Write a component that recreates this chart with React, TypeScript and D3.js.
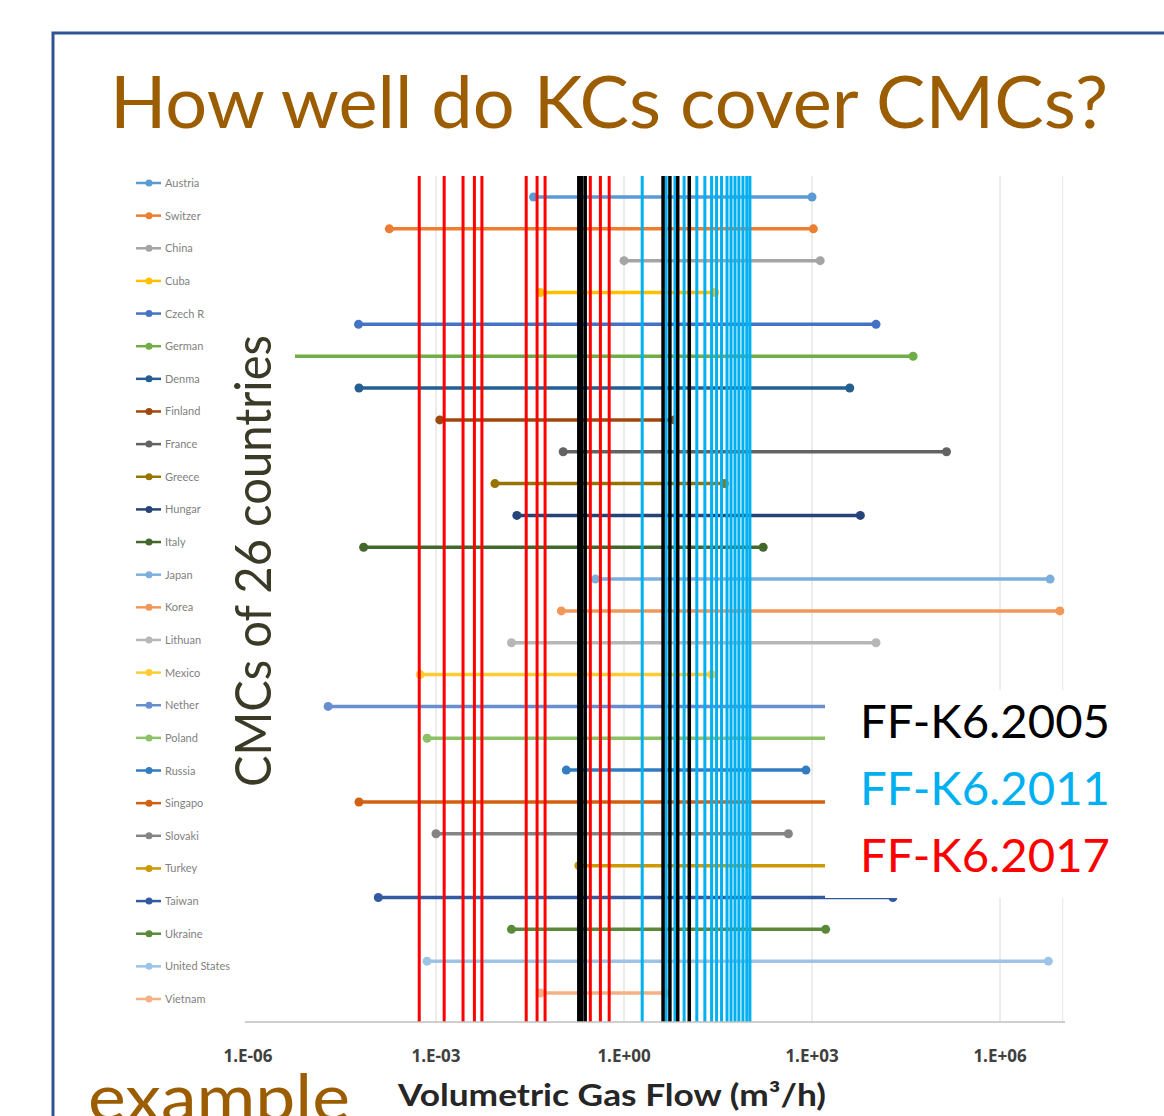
import React, { useEffect } from "react";
import * as d3 from "d3";

const countries = [
  "Austria", "Switzerland", "China", "Cuba", "Czech Republic", "Germany", "Denmark",
  "Finland", "France", "Greece", "Hungary", "Italy", "Japan", "Korea", "Lithuania",
  "Mexico", "Netherlands", "Poland", "Russia", "Singapore", "Slovakia", "Turkey",
  "Taiwan", "Ukraine", "United States", "Vietnam",
];
const legendLabels = [
  "Austria", "Switzer", "China", "Cuba", "Czech R", "German", "Denma",
  "Finland", "France", "Greece", "Hungar", "Italy", "Japan", "Korea", "Lithuan",
  "Mexico", "Nether", "Poland", "Russia", "Singapo", "Slovaki", "Turkey",
  "Taiwan", "Ukraine", "United States", "Vietnam",
];
const cmcMin = [
  3.6e-2, 1.8e-4, 1.0, 4.6e-2, 5.8e-5, 2e-6, 5.9e-5,
  1.15e-3, 0.107, 8.7e-3, 1.95e-2, 7e-5, 0.35, 0.1, 1.6e-2,
  5.6e-4, 1.9e-5, 7.2e-4, 0.12, 5.9e-5, 1e-3, 0.19,
  1.2e-4, 1.6e-2, 7.2e-4, 4.6e-2,
];
const cmcMax = [
  1e3, 1.05e3, 1.35e3, 28, 1.05e4, 4.1e4, 4e3,
  6.3, 1.4e5, 40, 5.9e3, 166, 6.3e6, 9e6, 1.05e4,
  25, 1e5, 3e4, 800, 2e4, 420, 1e4,
  1.95e4, 1.65e3, 5.9e6, 4.5,
];
const seriesColors = [
  "#5B9BD5", "#ED7D31", "#A5A5A5", "#FFC000", "#4472C4", "#70AD47", "#255E91",
  "#9E480E", "#636363", "#997300", "#264478", "#43682B", "#7CAFDD", "#F1975A", "#B7B7B7",
  "#FFCD33", "#698ED0", "#8CC168", "#327DC2", "#D26012", "#848484", "#CC9A00",
  "#335AA1", "#5A8A39", "#9DC3E6", "#F4B183",
];

const kc2005 = [0.19, 0.21, 0.24, 4.2, 5.4, 7.2, 11];
const kc2011 = [1.95, 4.7, 6.5, 9.1, 14.5, 19.5, 25, 30, 36, 44, 51, 59, 68, 79, 91, 102];
const kc2017 = [5.4e-4, 1.35e-3, 2.7e-3, 4.1e-3, 5.4e-3, 2.75e-2, 4.1e-2, 5.5e-2, 0.29, 0.42, 0.58];

const xTicks = [1e-6, 1e-3, 1, 1e3, 1e6];
const xTickLabels = ["1.E-06", "1.E-03", "1.E+00", "1.E+03", "1.E+06"];
const kcLabels = ["FF-K6.2005", "FF-K6.2011", "FF-K6.2017"];
const kcColors = ["#000000", "#00B0F0", "#FF0000"];

const W = 1164;
const H = 1116;
const plotTop = 176;
const plotBottom = 1022;

export default function App() {
  useEffect(() => {
    document.body.style.margin = "0";
    document.body.style.overflow = "hidden";
  }, []);

  const x = d3.scaleLog().domain([1e-6, 1e7]).range([248, 1062.7]);
  const y = d3.scalePoint<string>().domain(countries).range([197, 993]);
  const legendY = d3.scalePoint<string>().domain(countries).range([183, 999]);

  const font = "Lato, 'Open Sans', sans-serif";
  const brown = "#9C5D00";

  return (
    <svg width={W} height={H} style={{ position: "absolute", left: 0, top: 0, background: "#fff" }}
      fontFamily={font}>
      <defs>
        <clipPath id="legclip">
          <rect x={120} y={0} width={88} height={H} />
        </clipPath>
      </defs>
      <rect x={0} y={0} width={W} height={H} fill="#fff" />
      {/* slide frame */}
      <path d={`M53,${H + 5} L53,33 L${W + 5},33`} fill="none" stroke="#2F5597" strokeWidth={3} />

      {/* title */}
      <text x={110} y={128} fontSize={72} fill={brown} textLength={998} lengthAdjust="spacingAndGlyphs">
        How well do KCs cover CMCs?
      </text>

      {/* gridlines */}
      {xTicks.slice(1).map((t, i) => (
        <line key={"g" + i} x1={x(t)} x2={x(t)} y1={plotTop} y2={plotBottom} stroke="#D9D9D9" strokeWidth={1} />
      ))}
      <line x1={x(1e7)} x2={x(1e7)} y1={plotTop} y2={plotBottom} stroke="#E6E6E6" strokeWidth={1} />

      {/* CMC ranges */}
      {countries.map((c, i) => (
        <g key={c}>
          <line x1={x(cmcMin[i])} x2={x(cmcMax[i])} y1={y(c)} y2={y(c)} stroke={seriesColors[i]} strokeWidth={3.5} />
          <circle cx={x(cmcMin[i])} cy={y(c)} r={4.5} fill={seriesColors[i]} />
          <circle cx={x(cmcMax[i])} cy={y(c)} r={4.5} fill={seriesColors[i]} />
        </g>
      ))}

      {/* KC lines */}
      {kc2011.map((v, i) => (
        <line key={"b" + i} x1={x(v)} x2={x(v)} y1={plotTop} y2={plotBottom} stroke={kcColors[1]} strokeWidth={3} />
      ))}
      {kc2017.map((v, i) => (
        <line key={"r" + i} x1={x(v)} x2={x(v)} y1={plotTop} y2={plotBottom} stroke={kcColors[2]} strokeWidth={3} />
      ))}
      {kc2005.map((v, i) => (
        <line key={"k" + i} x1={x(v)} x2={x(v)} y1={plotTop} y2={plotBottom} stroke={kcColors[0]} strokeWidth={3.5} />
      ))}

      {/* x axis */}
      <line x1={245} x2={1065} y1={plotBottom} y2={plotBottom} stroke="#BFBFBF" strokeWidth={1.5} />
      {xTicks.map((t, i) => (
        <text key={"t" + i} x={x(t)} y={1062} fontSize={17} fontWeight="bold" fill="#404040" textAnchor="middle"
          fontFamily="'Liberation Sans Narrow', 'Open Sans', sans-serif">
          {xTickLabels[i]}
        </text>
      ))}
      <text x={398} y={1106} fontSize={30} fontWeight="bold" fill="#262626" textLength={428} lengthAdjust="spacingAndGlyphs">
        Volumetric Gas Flow (m³/h)
      </text>

      {/* legend */}
      {countries.map((c, i) => (
        <g key={"l" + c}>
          <line x1={136} x2={161} y1={legendY(c)} y2={legendY(c)} stroke={seriesColors[i]} strokeWidth={2.5} />
          <circle cx={149} cy={legendY(c)} r={3.5} fill={seriesColors[i]} />
          <text x={165} y={(legendY(c) as number) + 4} fontSize={11} fill="#7F7F7F"
            clipPath={i < 24 ? "url(#legclip)" : undefined}>
            {legendLabels[i]}
          </text>
        </g>
      ))}

      {/* y title box */}
      <rect x={222} y={325} width={73} height={475} fill="#fff" />
      <text transform="translate(271,561) rotate(-90)" textAnchor="middle" fontSize={51} fill="#3B3A26"
        textLength={452} lengthAdjust="spacingAndGlyphs">
        CMCs of 26 countries
      </text>

      {/* KC legend box */}
      <rect x={825} y={690} width={W - 825} height={208} fill="#fff" />
      {kcLabels.map((s, i) => (
        <text key={s} x={860} y={738 + i * 67} fontSize={47} fill={kcColors[i]} textLength={250} lengthAdjust="spacingAndGlyphs">
          {s}
        </text>
      ))}

      {/* example */}
      <text x={88} y={1121} fontSize={66} fill={brown} textLength={262} lengthAdjust="spacingAndGlyphs">
        example
      </text>
    </svg>
  );
}
